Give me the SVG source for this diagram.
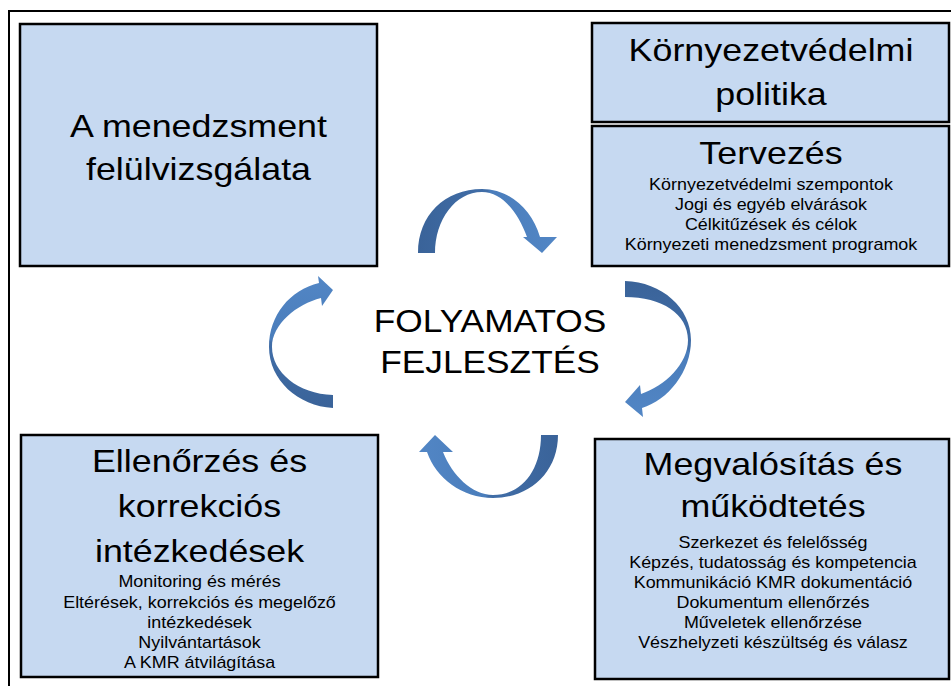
<svg xmlns="http://www.w3.org/2000/svg" width="951" height="686" viewBox="0 0 951 686">
<defs>
<style>
.box{fill:#C6D9F1;stroke:#000;stroke-width:2.5}
.t{font-family:"Liberation Sans",Arial,sans-serif;fill:#000;text-anchor:middle}
.big{font-size:32px}
.sm{font-size:16px}
.arr{stroke:none}
</style>
<linearGradient id="gTop" x1="0" y1="0" x2="1" y2="0"><stop offset="0" stop-color="#3A6399"/><stop offset="0.5" stop-color="#416EA8"/><stop offset="0.52" stop-color="#4A7DBB"/><stop offset="1" stop-color="#5286C5"/></linearGradient>
<linearGradient id="gRight" x1="0" y1="0" x2="0" y2="1"><stop offset="0" stop-color="#3A6399"/><stop offset="0.5" stop-color="#416EA8"/><stop offset="0.52" stop-color="#4A7DBB"/><stop offset="1" stop-color="#5286C5"/></linearGradient>
<linearGradient id="gBottom" x1="1" y1="0" x2="0" y2="0"><stop offset="0" stop-color="#3A6399"/><stop offset="0.5" stop-color="#416EA8"/><stop offset="0.52" stop-color="#4A7DBB"/><stop offset="1" stop-color="#5286C5"/></linearGradient>
<linearGradient id="gLeft" x1="0" y1="1" x2="0" y2="0"><stop offset="0" stop-color="#3A6399"/><stop offset="0.5" stop-color="#416EA8"/><stop offset="0.52" stop-color="#4A7DBB"/><stop offset="1" stop-color="#5286C5"/></linearGradient>
</defs>
<rect width="951" height="686" fill="#fff"/>
<path d="M9,686 L9,11 L951,11" fill="none" stroke="#000" stroke-width="2"/>

<g id="connectors">
<path class="arr" fill="url(#gTop)" d="M418,253 C418,215 445,189 482,189 C510,189 532,210 540,237 L557,237 L542,253 L523,237 L527,237 C518,212 502,192 482,192 C455,192 435,220 435,253 Z"/>
<path class="arr" fill="url(#gRight)" d="M625,281 C662,282 691,308 691,340 C691,372 668,400 642,408 L643,417 L625,402 L640,385 L641,394 C665,386 688,364 688,340 C688,314 662,297 625,297 Z"/>
<path class="arr" fill="url(#gBottom)" d="M558,435 C558,472 530,498 493,498 C462,498 436,478 427,452 L419,452 L435,435 L453,452 L443,452 C452,475 472,495 493,495 C522,495 541,470 541,435 Z"/>
<path class="arr" fill="url(#gLeft)" d="M333,408 C298,406 269,380 269,347 C269,315 290,290 319,283 L318,276 L333,290 L322,306 L321,298 C297,304 272,324 272,347 C272,372 298,394 333,395 Z"/>
</g>

<g id="center">
<g transform="translate(490,0) scale(1.12,1)">
<text class="t" x="0" y="332" font-size="31.5">FOLYAMATOS</text>
<text class="t" x="0" y="373" font-size="31.5">FEJLESZTÉS</text>
</g>
</g>

<g id="node-felulvizsgalat">
<rect class="box" x="20" y="24" width="357" height="242"/>
<g transform="translate(198.5,0) scale(1.12,1)">
<text class="t big" x="0" y="137">A menedzsment</text>
<text class="t big" x="0" y="180">felülvizsgálata</text>
</g>
</g>

<g id="node-politika">
<rect class="box" x="592" y="23" width="357" height="99"/>
<g transform="translate(771,0) scale(1.12,1)">
<text class="t big" x="0" y="61">Környezetvédelmi</text>
<text class="t big" x="0" y="105">politika</text>
</g>
</g>

<g id="node-tervezes">
<rect class="box" x="592" y="126" width="357" height="140"/>
<g transform="translate(771,0) scale(1.12,1)">
<text class="t big" x="0" y="164">Tervezés</text>
<text class="t sm" x="0" y="190">Környezetvédelmi szempontok</text>
<text class="t sm" x="0" y="210">Jogi és egyéb elvárások</text>
<text class="t sm" x="0" y="230">Célkitűzések és célok</text>
<text class="t sm" x="0" y="250">Környezeti menedzsment programok</text>
</g>
</g>

<g id="node-ellenorzes">
<rect class="box" x="21" y="435" width="357" height="242"/>
<g transform="translate(199.5,0) scale(1.12,1)">
<text class="t big" x="0" y="472">Ellenőrzés és</text>
<text class="t big" x="0" y="517">korrekciós</text>
<text class="t big" x="0" y="562">intézkedések</text>
<text class="t sm" x="0" y="587">Monitoring és mérés</text>
<text class="t sm" x="0" y="608">Eltérések, korrekciós és megelőző</text>
<text class="t sm" x="0" y="628">intézkedések</text>
<text class="t sm" x="0" y="648">Nyilvántartások</text>
<text class="t sm" x="0" y="668">A KMR átvilágítása</text>
</g>
</g>

<g id="node-megvalositas">
<rect class="box" x="595" y="439" width="354" height="240"/>
<g transform="translate(773,0) scale(1.12,1)">
<text class="t big" x="0" y="475">Megvalósítás és</text>
<text class="t big" x="0" y="517">működtetés</text>
<text class="t sm" x="0" y="548">Szerkezet és felelősség</text>
<text class="t sm" x="0" y="568">Képzés, tudatosság és kompetencia</text>
<text class="t sm" x="0" y="588">Kommunikáció KMR dokumentáció</text>
<text class="t sm" x="0" y="608">Dokumentum ellenőrzés</text>
<text class="t sm" x="0" y="628">Műveletek ellenőrzése</text>
<text class="t sm" x="0" y="648">Vészhelyzeti készültség és válasz</text>
</g>
</g>
</svg>
